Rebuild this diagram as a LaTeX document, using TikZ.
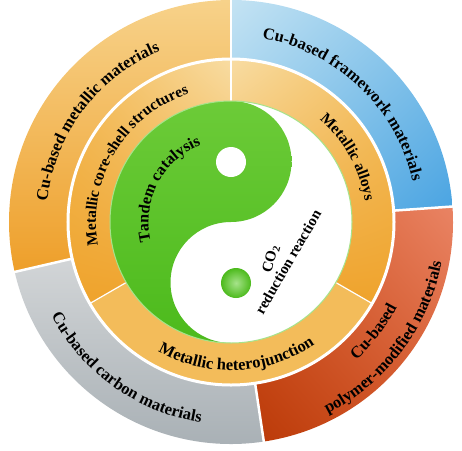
\documentclass[tikz,border=0pt]{standalone}
\usepackage{fontspec}
\setmainfont{Liberation Serif}
\usetikzlibrary{decorations.text,shadings}

\definecolor{orgL}{HTML}{F7D28A}
\definecolor{orgD}{HTML}{EE9F2A}
\definecolor{bluL}{HTML}{C4E3F3}
\definecolor{bluM}{HTML}{86C4EA}
\definecolor{bluD}{HTML}{4AA4E2}
\definecolor{redL}{HTML}{EA8566}
\definecolor{redM}{HTML}{D65A2C}
\definecolor{redD}{HTML}{BB3A08}
\definecolor{gryL}{HTML}{D2D5D7}
\definecolor{gryD}{HTML}{A6AEB3}
\definecolor{midL}{HTML}{F8DCA2}
\definecolor{midM}{HTML}{F3BC5A}
\definecolor{midD}{HTML}{EFA32C}
\definecolor{grnL}{HTML}{6CCB38}
\definecolor{grnD}{HTML}{4CBA1C}
\definecolor{grnE}{HTML}{A6E38A}

% annular sector: inner radius, outer radius, start angle, end angle
\newcommand\ringpart[4]{(#3:#2) arc (#3:#4:#2) -- (#4:#1) arc (#4:#3:#1) -- cycle}

\begin{document}
\begin{tikzpicture}[x=1pt,y=1pt,line join=round,line cap=round,
	ringtext/.style 2 args={decorate,decoration={text along path,text align=center,
			text={|\bfseries\fontsize{#1}{#1}\selectfont|#2}}},
	gap/.style={draw=white,line width=#1}]
	\useasboundingbox (-231,-228) rectangle (231,222);
	
	% outer ring
	\shade[top color=orgL,bottom color=orgD] \ringpart{164}{222}{90}{193};
	\shade[upper left=bluL,upper right=bluM,lower left=bluM,lower right=bluD] \ringpart{164}{222}{4}{90};
	\shade[upper left=redM,upper right=redL,lower left=redD,lower right=redM] \ringpart{164}{222}{278.5}{364};
	\shade[upper left=gryL,upper right=gryL,lower left=gryD,lower right=gryD] \ringpart{164}{222}{193}{278.5};
	
	% middle ring
	\shade[upper left=midM,upper right=midL,lower left=midD,lower right=midD] \ringpart{121}{162}{90}{210};
	\shade[upper left=midL,upper right=midM,lower left=midD,lower right=midD] \ringpart{121}{162}{-30}{90};
	\shade[left color=midM,middle color=midL,right color=midM] \ringpart{121}{162}{210}{330};
	
	% yin-yang
	\fill[white] (0,0) circle (121);
	\shade[top color=grnL,bottom color=grnD] (0,121) arc (90:270:121) arc (270:90:60.5) arc (-90:90:60.5) -- cycle;
	\fill[white] (0,60) circle (15);
	\shade[inner color=grnE,outer color=grnD] (5,-61) circle (15);
	\draw[grnE,line width=1] (0,0) circle (121);
	
	% white gaps
	\draw[gap=3] (0,0) circle (163);
	\foreach \a in {90,193,278.5,4} \draw[gap=2.5] (\a:163) -- (\a:223);
	\foreach \a in {90,210,330} \draw[gap=1.2] (\a:122) -- (\a:162);
	
	% labels
	\path[ringtext={16.5}{Cu-based metallic materials}] (193:185) arc (193:93:185);
	\path[ringtext={16.5}{Cu-based framework materials}] (96.5:186) arc (96.5:-3.5:186);
	\path[ringtext={16.5}{Cu-based carbon materials}] (184.5:202.5) arc (184.5:284.5:202.5);
	\path[ringtext={16.5}{Cu-based}] (-87.5:186.5) arc (-87.5:12.5:186.5);
	\path[ringtext={16.5}{polymer-modified materials}] (-87:214.5) arc (-87:13:214.5);
	\path[ringtext={15.5}{Metallic core-shell structures}] (199:135) arc (199:99:135);
	\path[ringtext={15.5}{Metallic alloys}] (79:135.5) arc (79:-21:135.5);
	\path[ringtext={16.5}{Metallic heterojunction}] (222.5:148.5) arc (222.5:322.5:148.5);
	\path[ringtext={16}{Tandem catalysis}] (202.5:82.5) arc (202.5:102.5:82.5);
	
	\node[font=\bfseries\fontsize{15}{15}\selectfont,rotate=75] (co2) at (40,-37) {CO\textsubscript{2}};
	\node[font=\bfseries\fontsize{15}{15}\selectfont,rotate=60] (rr) at (57,-40) {reduction reaction};
\end{tikzpicture}
\end{document}
